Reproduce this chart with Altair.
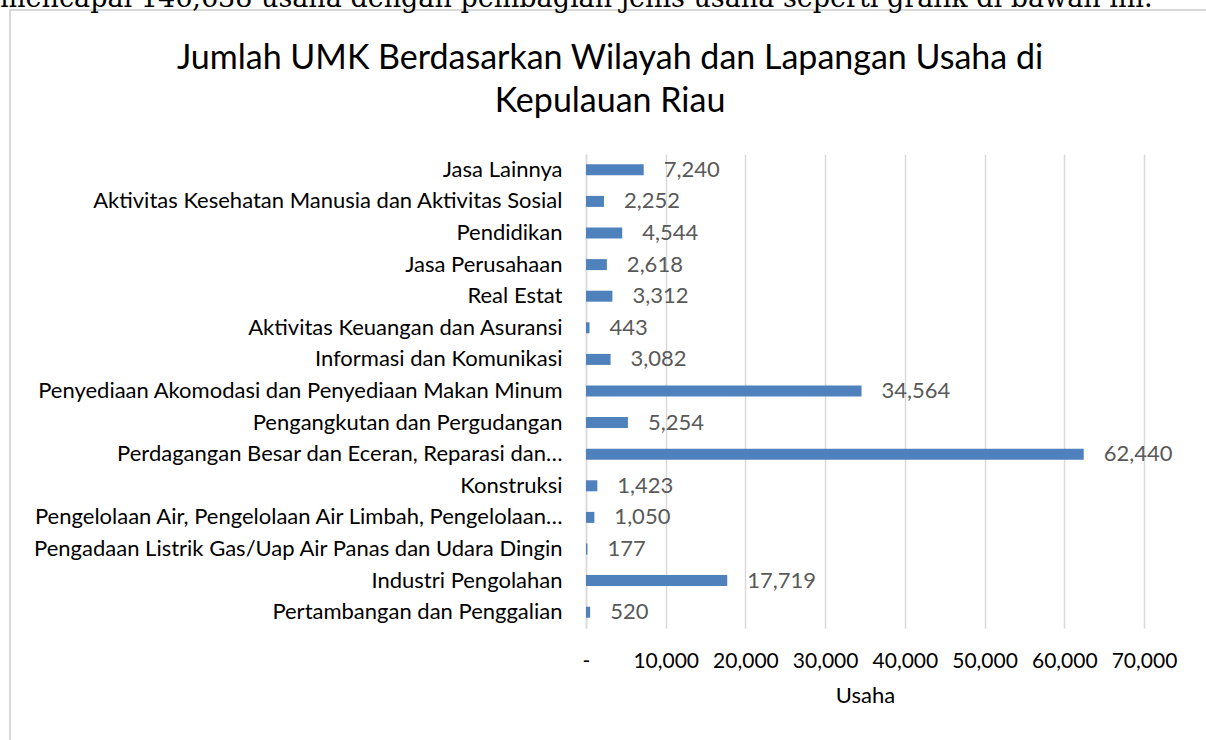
import altair as alt
import pandas as pd

categories = [
    "Jasa Lainnya",
    "Aktivitas Kesehatan Manusia dan Aktivitas Sosial",
    "Pendidikan",
    "Jasa Perusahaan",
    "Real Estat",
    "Aktivitas Keuangan dan Asuransi",
    "Informasi dan Komunikasi",
    "Penyediaan Akomodasi dan Penyediaan Makan Minum",
    "Pengangkutan dan Pergudangan",
    "Perdagangan Besar dan Eceran, Reparasi dan\u2026",
    "Konstruksi",
    "Pengelolaan Air, Pengelolaan Air Limbah, Pengelolaan\u2026",
    "Pengadaan Listrik Gas/Uap Air Panas dan Udara Dingin",
    "Industri Pengolahan",
    "Pertambangan dan Penggalian",
]
values = [7240, 2252, 4544, 2618, 3312, 443, 3082, 34564, 5254, 62440, 1423, 1050, 177, 17719, 520]
x_ticks = [0, 10000, 20000, 30000, 40000, 50000, 60000, 70000]
title_lines = ["Jumlah UMK Berdasarkan Wilayah dan Lapangan Usaha di", "Kepulauan Riau"]
top_text = "mencapai 146,638 usaha dengan pembagian jenis usaha seperti grafik di bawah ini."
x_title = "Usaha"

df = pd.DataFrame({"kategori": categories, "usaha": values})

FONT = "Lato"

x_enc = alt.X(
    "usaha:Q",
    scale=alt.Scale(domain=[0, 70000], nice=False),
    axis=alt.Axis(
        values=x_ticks,
        title=x_title,
        labelExpr="datum.value == 0 ? '-' : format(datum.value, ',')",
        labelFont=FONT, labelFontSize=21, labelColor="#000000",
        labelPadding=22, labelOverlap=False, labelFlush=False,
        ticks=False, domain=False,
        grid=True, gridColor="#d9d9d9", gridWidth=1.5,
        titleFont=FONT, titleFontSize=22, titleFontWeight="normal",
        titleColor="#000000", titlePadding=14,
    ),
)
y_enc = alt.Y(
    "kategori:N",
    sort=categories,
    scale=alt.Scale(paddingInner=0.6, paddingOuter=0.3),
    axis=alt.Axis(
        title=None, ticks=False, domain=True, domainColor="#d9d9d9", domainWidth=1.5,
        labelFont=FONT, labelFontSize=22, labelColor="#000000",
        labelPadding=24, labelLimit=620,
    ),
)

bars = alt.Chart(df).mark_bar(color="#4f81bd", size=11).encode(x=x_enc, y=y_enc)

labels = alt.Chart(df).mark_text(
    align="left", baseline="middle", dx=20, font=FONT, fontSize=22, color="#595959"
).encode(
    x=alt.X("usaha:Q"),
    y=alt.Y("kategori:N", sort=categories),
    text=alt.Text("usaha:Q", format=","),
)

title_df = pd.DataFrame({"line": title_lines})
title1 = alt.Chart(title_df.iloc[[0]]).mark_text(
    align="center", baseline="alphabetic", font=FONT, fontSize=34, color="#000000"
).encode(x=alt.value(610 - 586), y=alt.value(69 - 154), text="line:N")
title2 = alt.Chart(title_df.iloc[[1]]).mark_text(
    align="center", baseline="alphabetic", font=FONT, fontSize=34, color="#000000"
).encode(x=alt.value(610 - 586), y=alt.value(112 - 154), text="line:N")

frame = alt.Chart(pd.DataFrame({"a": [0]})).mark_rect(
    fill=None, stroke="#d9d9d9", strokeWidth=2
).encode(
    x=alt.value(10 - 586), x2=alt.value(1300 - 586),
    y=alt.value(10 - 154), y2=alt.value(800 - 154),
)

top = alt.Chart(pd.DataFrame({"t": [top_text]})).mark_text(
    align="left", baseline="alphabetic", font="DejaVu Serif", fontSize=27, color="#000000"
).encode(x=alt.value(0 - 586), y=alt.value(7 - 154), text="t:N")

chart = alt.layer(frame, top, bars, labels, title1, title2).properties(
    width=558,
    height=474,
    autosize=alt.AutoSizeParams(type="none"),
    padding={"left": 586, "top": 154, "right": 62, "bottom": 112},
    background="#ffffff",
).configure_view(stroke=None)

chart.save("out.html", embed_options={"renderer": "svg", "actions": False})
